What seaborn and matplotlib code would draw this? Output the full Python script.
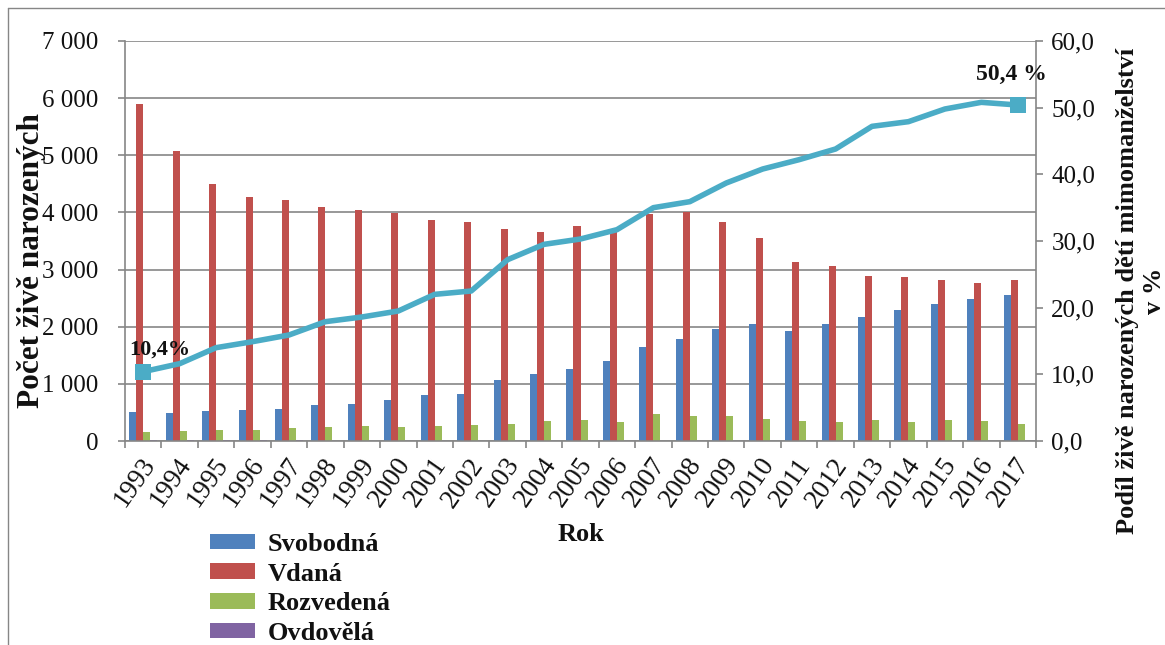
import numpy as np
import pandas as pd
import matplotlib
matplotlib.use("Agg")
import matplotlib.pyplot as plt
import matplotlib.transforms as mtransforms
from matplotlib.ticker import FuncFormatter, FixedLocator
from matplotlib.lines import Line2D
import seaborn as sns

# Live births by marital status of the mother, 1993-2017
years = [str(y) for y in range(1993, 2018)]
svobodna = [507, 484, 519, 536, 559, 629, 647, 711, 804, 821, 1061, 1171, 1259,
            1399, 1649, 1783, 1964, 2045, 1929, 2045, 2174, 2290, 2395, 2488, 2552]
vdana = [5890, 5070, 4490, 4270, 4220, 4100, 4040, 3996, 3870, 3828, 3712, 3654, 3759,
         3677, 3980, 4003, 3828, 3561, 3129, 3071, 2879, 2873, 2809, 2762, 2826]
rozvedena = [163, 180, 192, 187, 233, 239, 257, 239, 262, 274, 297, 355, 361,
             326, 466, 437, 431, 390, 344, 332, 367, 332, 361, 344, 297]
ovdovela = [10, 10, 25, 10, 10, 8, 8, 8, 8, 8, 8, 8, 8,
            8, 8, 8, 8, 8, 8, 8, 8, 8, 8, 8, 8]
# Share of births outside marriage, in %
podil = [10.4, 11.6, 14.0, 14.9, 15.9, 17.9, 18.6, 19.5, 22.0, 22.5, 27.2, 29.5, 30.3,
         31.7, 35.0, 35.9, 38.7, 40.8, 42.2, 43.8, 47.2, 47.9, 49.8, 50.8, 50.4]

status_names = ["Svobodná", "Vdaná", "Rozvedená", "Ovdovělá"]
status_colors = ["#4F81BD", "#C0504D", "#9BBB59", "#8064A2"]
line_color = "#4BACC6"
grid_color = "#868686"
text_color = "#111111"

df = pd.DataFrame({
    "Rok": years * 4,
    "Počet": svobodna + vdana + rozvedena + ovdovela,
    "Stav": sum([[s] * len(years) for s in status_names], []),
})

sns.set_theme(style="white")
plt.rcParams["font.family"] = ["Liberation Serif", "DejaVu Serif"]

fig = plt.figure(figsize=(11.65, 6.45), dpi=100)
W, H = 1165, 645
ax = fig.add_axes([125 / W, 1 - 441 / H, (1036 - 125) / W, 400 / H])

sns.barplot(data=df, x="Rok", y="Počet", hue="Stav", hue_order=status_names,
            palette=status_colors, width=0.77, saturation=1, linewidth=0,
            ax=ax, legend=True)

ax.set_ylim(0, 7000)
ax.set_xlim(-0.5, len(years) - 0.5)
ax.yaxis.set_major_locator(FixedLocator(np.arange(0, 7001, 1000)))
ax.yaxis.set_major_formatter(FuncFormatter(lambda v, p: f"{int(v):,}".replace(",", " ")))
ax.grid(axis="y", color=grid_color, linewidth=1.2)
ax.set_axisbelow(True)

for side in ["top", "right"]:
    ax.spines[side].set_visible(False)
for side in ["left", "bottom"]:
    ax.spines[side].set_color(grid_color)
    ax.spines[side].set_linewidth(1.2)

ax.tick_params(axis="y", which="major", direction="out", length=5, width=1.2,
               color=grid_color, labelsize=18, left=True, pad=14, labelcolor=text_color)
ax.tick_params(axis="x", which="major", length=0, labelsize=19.5, pad=6, labelcolor=text_color)
ax.set_xticks(np.arange(-0.5, len(years), 1.0), minor=True)
ax.tick_params(axis="x", which="minor", direction="out", length=5, width=1.2,
               color=grid_color, bottom=True)
shift = mtransforms.ScaledTranslation(0.07, -0.11, fig.dpi_scale_trans)
for lbl in ax.get_xticklabels():
    lbl.set_rotation(55)
    lbl.set_ha("right")
    lbl.set_va("center")
    lbl.set_rotation_mode("anchor")
    lbl.set_transform(lbl.get_transform() + shift)

ax.set_xlabel("Rok", fontsize=19, fontweight="bold", color=text_color)
ax.xaxis.set_label_coords(0.5, -0.205)
ax.set_ylabel("Počet živě narozených", fontsize=22.5, fontweight="bold", color=text_color)
ax.yaxis.set_label_coords(-0.087, 0.45)

# Legend below the axis, stacked vertically
handles, labels = ax.get_legend_handles_labels()
ax.get_legend().remove()
fig.legend(handles, labels, loc="upper left", bbox_to_anchor=(210 / W, 1 - 533 / H),
           frameon=False, prop={"weight": "bold", "size": 19}, handlelength=1.7,
           handleheight=0.53, handletextpad=0.5, labelspacing=0.25, borderaxespad=0,
           borderpad=0, labelcolor=text_color)

# Secondary axis: share of births outside marriage
ax2 = ax.twinx()
sns.lineplot(x=np.arange(len(years)), y=podil, ax=ax2, color=line_color,
             linewidth=4, marker="s", markersize=11, markevery=[0, len(podil) - 1],
             markeredgewidth=0, solid_joinstyle="round")
ax2.set_ylim(0, 60)
ax2.yaxis.set_major_locator(FixedLocator(np.arange(0, 61, 10)))
ax2.yaxis.set_major_formatter(FuncFormatter(lambda v, p: f"{v:.1f}".replace(".", ",")))
for side in ["top", "left", "bottom"]:
    ax2.spines[side].set_visible(False)
ax2.spines["right"].set_color(grid_color)
ax2.spines["right"].set_linewidth(1.2)
ax2.tick_params(axis="y", direction="out", length=5, width=1.2, color=grid_color,
                labelsize=18, right=True, pad=6, labelcolor=text_color)
ax2.set_ylabel("Podíl živě narozených dětí mimomanželství\nv %", fontsize=19,
               fontweight="bold", multialignment="center", labelpad=0, color=text_color)
ax2.yaxis.set_label_coords(1.088, 0.375)

# Value labels at the first and last point
first_txt = f"{podil[0]:.1f}%".replace(".", ",")
last_txt = f"{podil[-1]:.1f} %".replace(".", ",")
ax2.annotate(first_txt, (0, podil[0]), xytext=(17, 22), textcoords="offset pixels",
             ha="center", va="center", fontsize=16, fontweight="bold", color=text_color)
ax2.annotate(last_txt, (len(podil) - 1, podil[-1]), xytext=(-6, 31), textcoords="offset pixels",
             ha="center", va="center", fontsize=17, fontweight="bold", color=text_color)

# Outer chart frame (left and top edges)
fig.add_artist(Line2D([8 / W, 8 / W], [0, 1 - 8 / H], color=grid_color, linewidth=1.0,
                      transform=fig.transFigure))
fig.add_artist(Line2D([8 / W, 1], [1 - 8 / H, 1 - 8 / H], color=grid_color, linewidth=1.0,
                      transform=fig.transFigure))

fig.savefig("out.png", dpi=100)
